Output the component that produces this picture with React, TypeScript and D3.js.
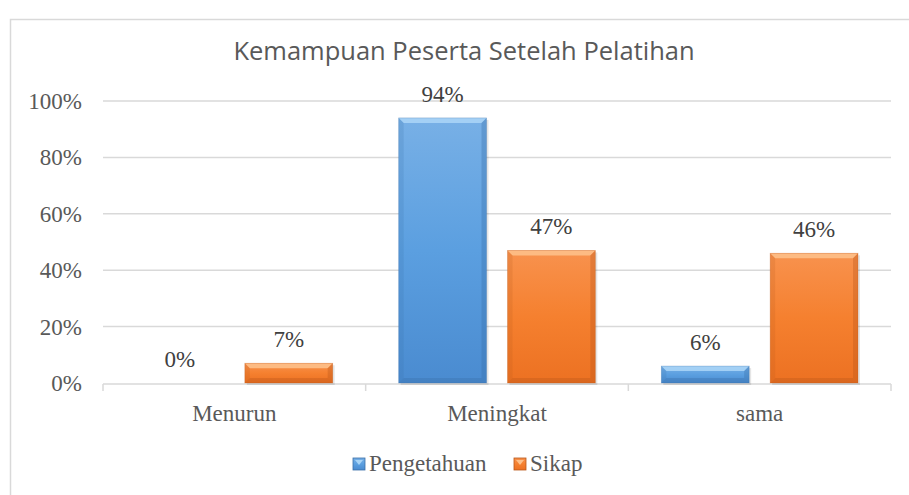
import React from "react";
import * as d3 from "d3";

// chart data
const categories = ["Menurun", "Meningkat", "sama"];
const seriesNames = ["Pengetahuan", "Sikap"];
const pengetahuan = [0, 0.94, 0.06];
const sikap = [0.07, 0.47, 0.46];
const yTicks = [0, 0.2, 0.4, 0.6, 0.8, 1];

const W = 909;
const H = 495;

const palette: Record<string, { top: string; mid: string; bot: string; light: string; dark: string }> = {
  Pengetahuan: { top: "#78b0e6", mid: "#5b9fe0", bot: "#4a8bd0", light: "#a8d4f6", dark: "#3a6fa8" },
  Sikap: { top: "#f8924e", mid: "#f5802f", bot: "#ec7122", light: "#fdc08a", dark: "#b9571a" },
};

const App = () => {
  const x = d3.scaleBand<string>().domain(categories).range([103, 891]);
  const x1 = d3
    .scaleBand<string>()
    .domain(seriesNames)
    .range([33, x.bandwidth() - 33])
    .paddingInner(0.193);
  const y = d3.scaleLinear().domain([0, 1]).range([383, 101]);
  const fmt = d3.format(".0%");

  const rows = categories.flatMap((c, i) => [
    { cat: c, s: "Pengetahuan", v: pengetahuan[i] },
    { cat: c, s: "Sikap", v: sikap[i] },
  ]);

  const serif = "'Liberation Serif', 'Times New Roman', serif";

  return (
    <svg width={W} height={H} style={{ position: "absolute", left: 0, top: 0, display: "block" }}>
      <defs>
        {seriesNames.map((s) => (
          <linearGradient key={s} id={"g-" + s} x1="0" y1="0" x2="0" y2="1">
            <stop offset="0%" stopColor={palette[s].top} />
            <stop offset="50%" stopColor={palette[s].mid} />
            <stop offset="100%" stopColor={palette[s].bot} />
          </linearGradient>
        ))}
      </defs>
      <rect x={0} y={0} width={W} height={H} fill="#fff" />
      <rect x={10.5} y={19.5} width={1000} height={1000} fill="none" stroke="#d9d9d9" strokeWidth={1.5} />

      <text x={464} y={60} textAnchor="middle" fontFamily="'Open Sans', sans-serif" fontSize={25.5} fill="#595959">
        Kemampuan Peserta Setelah Pelatihan
      </text>

      {/* gridlines + y labels */}
      {yTicks.map((t) => (
        <g key={t}>
          {t > 0 && <line x1={103} x2={891} y1={y(t)} y2={y(t)} stroke="#d9d9d9" strokeWidth={1.5} />}
          <text x={82} y={y(t) + 8} textAnchor="end" fontFamily={serif} fontSize={23} fill="#595959">
            {fmt(t)}
          </text>
        </g>
      ))}

      {/* x axis */}
      <line x1={103} x2={891} y1={y(0) + 1} y2={y(0) + 1} stroke="#d9d9d9" strokeWidth={1.5} />
      {[...categories.map((c) => x(c) as number), 891].map((px, i) => (
        <line key={i} x1={px} x2={px} y1={y(0) + 1} y2={y(0) + 8} stroke="#d9d9d9" strokeWidth={1.5} />
      ))}

      {/* bars */}
      {rows.map((d, i) => {
        const x0 = (x(d.cat) as number) + (x1(d.s) as number);
        const w = x1.bandwidth();
        const y0 = y(d.v);
        const y1 = y(0);
        const h = y1 - y0;
        const b = Math.min(5, h / 3);
        const p = palette[d.s];
        return (
          <g key={i}>
            {h > 0 && (
              <g>
                <rect x={x0 + 2} y={y0 + 2} width={w} height={h} fill="#000" opacity={0.1} />
                <rect x={x0} y={y0} width={w} height={h} fill={`url(#g-${d.s})`} />
                <polygon
                  points={`${x0},${y0} ${x0 + w},${y0} ${x0 + w - b},${y0 + b} ${x0 + b},${y0 + b}`}
                  fill={p.light}
                  opacity={0.9}
                />
                <polygon
                  points={`${x0},${y1} ${x0 + w},${y1} ${x0 + w - b},${y1 - b} ${x0 + b},${y1 - b}`}
                  fill={p.dark}
                  opacity={0.35}
                />
                <polygon
                  points={`${x0},${y0} ${x0 + b},${y0 + b} ${x0 + b},${y1 - b} ${x0},${y1}`}
                  fill={p.dark}
                  opacity={0.18}
                />
                <polygon
                  points={`${x0 + w},${y0} ${x0 + w - b},${y0 + b} ${x0 + w - b},${y1 - b} ${x0 + w},${y1}`}
                  fill={p.dark}
                  opacity={0.35}
                />
                <rect x={x0} y={y0} width={w} height={h} fill="none" stroke={p.dark} strokeOpacity={0.35} strokeWidth={0.8} />
              </g>
            )}
            <text x={x0 + w / 2} y={y0 - 16} textAnchor="middle" fontFamily={serif} fontSize={23} fill="#404040">
              {fmt(d.v)}
            </text>
          </g>
        );
      })}

      {/* category labels */}
      {categories.map((c) => (
        <text
          key={c}
          x={(x(c) as number) + x.bandwidth() / 2}
          y={421}
          textAnchor="middle"
          fontFamily={serif}
          fontSize={23}
          fill="#595959"
        >
          {c}
        </text>
      ))}

      {/* legend */}
      {seriesNames.map((s, i) => {
        const lx = i === 0 ? 353 : 514;
        return (
          <g key={s}>
            <rect x={lx} y={458} width={12} height={12} fill={`url(#g-${s})`} stroke={palette[s].dark} strokeWidth={0.8} />
            <polygon points={`${lx + 2},${460} ${lx + 10},${460} ${lx + 6},${465}`} fill={palette[s].light} />
            <text x={lx + 16} y={471} fontFamily={serif} fontSize={23} fill="#595959">
              {s}
            </text>
          </g>
        );
      })}
    </svg>
  );
};

export default App;
